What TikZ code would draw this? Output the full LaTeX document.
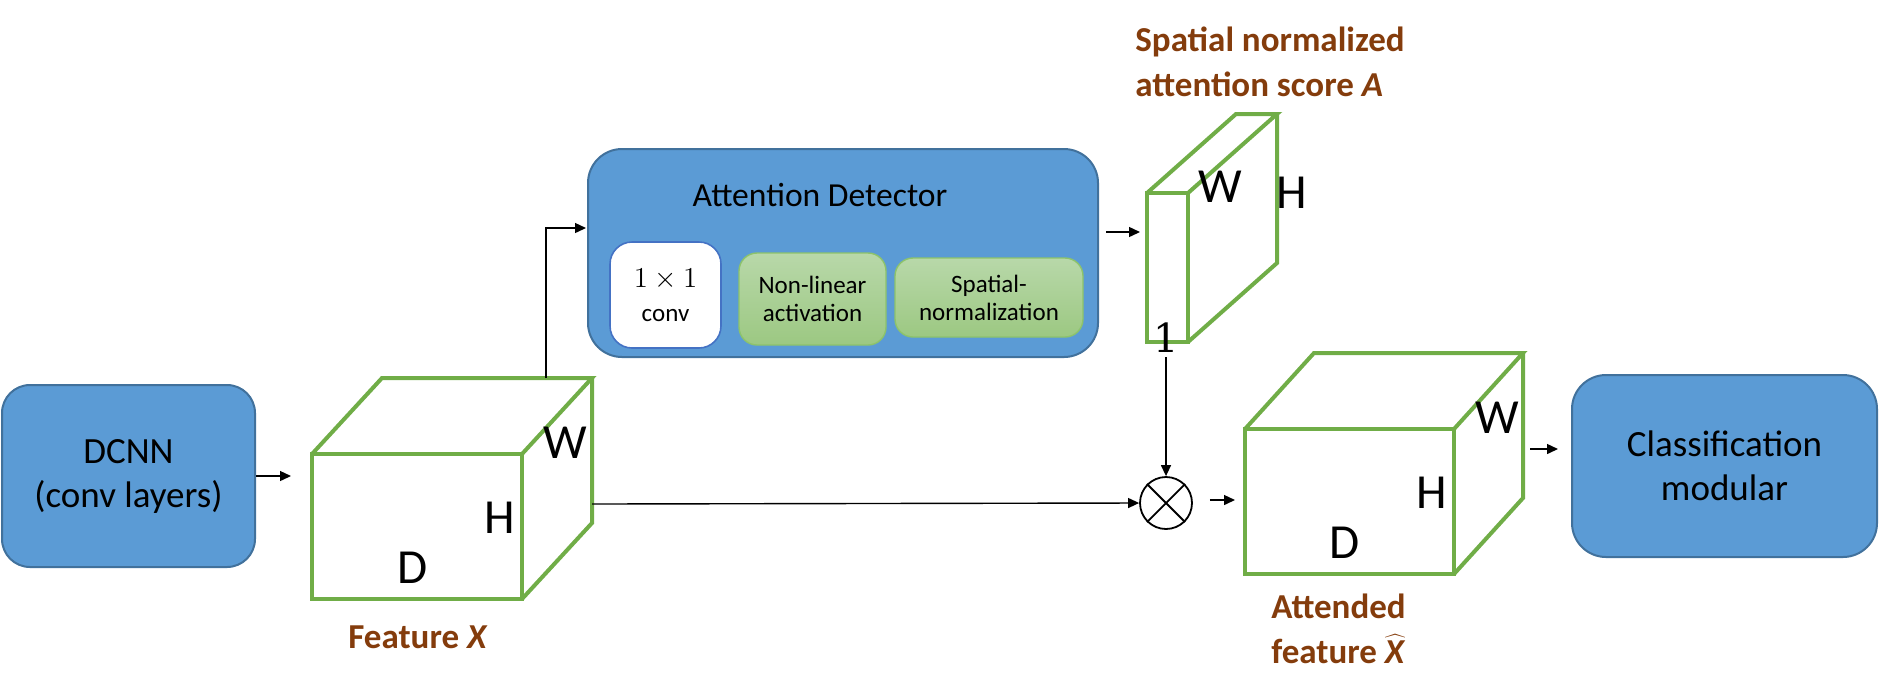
\documentclass[tikz,border=0pt]{standalone}
\usepackage{fontspec}
\setmainfont{Carlito}
\newfontfamily\numserif{DejaVu Serif}
\usetikzlibrary{arrows.meta}
\definecolor{boxblue}{HTML}{5B9BD5}
\definecolor{boxedge}{HTML}{41719C}
\definecolor{convedge}{HTML}{4472C4}
\definecolor{cubegreen}{HTML}{70AD47}
\definecolor{brownlab}{HTML}{843C0C}
\definecolor{gtop}{HTML}{B8D8A9}
\definecolor{gbot}{HTML}{9CC882}
\definecolor{gedge}{HTML}{8DC36B}
\tikzset{
  bluebox/.style={draw=boxedge, fill=boxblue, line width=1pt, align=center, inner sep=0pt},
  greenbox/.style={draw=gedge, top color=gtop, bottom color=gbot, line width=0.7pt,
     rounded corners=9pt, align=center, inner sep=0pt, font=\fontsize{12.5}{14}\selectfont},
  cubeline/.style={draw=cubegreen, line width=2pt},
  dimlab/.style={font=\fontsize{24.5}{29}\selectfont, inner sep=0pt},
  brownlab/.style={text=brownlab, font=\fontsize{17.5}{22.5}\selectfont\bfseries, inner sep=0pt},
  arr/.style={draw=black, line width=0.7pt, -{Triangle[length=5.5pt,width=5pt]}}
}
\begin{document}
\begin{tikzpicture}[x=0.5pt,y=-0.5pt]
\useasboundingbox (0,0) rectangle (1879,698);

% boxes
\node[bluebox, rounded corners=14pt, minimum width=126.5pt, minimum height=91pt,
      font=\fontsize{18.5}{22}\selectfont] (DCNN) at (128.5,476) {DCNN\\(conv layers)};
\node[bluebox, rounded corners=17pt, minimum width=255pt, minimum height=104pt] (AD) at (843,253) {};
\node[font=\fontsize{16.8}{19}\selectfont, inner sep=0pt] (ADt) at (820,195) {Attention Detector};
\node[draw=convedge, fill=white, line width=0.8pt, rounded corners=11pt, minimum width=55.5pt,
      minimum height=53pt, align=center, inner sep=0pt, font=\fontsize{12.5}{17}\selectfont]
      (conv) at (665.5,295) {{\fontsize{15}{17}\selectfont$1\times 1$}\\conv};
\node[greenbox, minimum width=73.5pt, minimum height=46pt] (nl) at (812.5,299) {Non-linear\\activation};
\node[greenbox, minimum width=94pt, minimum height=39.5pt] (sn) at (989,297.5) {Spatial-\\normalization};
\node[bluebox, rounded corners=17pt, minimum width=152.5pt, minimum height=91pt,
      font=\fontsize{18.5}{22}\selectfont] (CLS) at (1724.5,466) {Classification\\modular};

% cube X
\draw[cubeline] (312,454) rectangle (522,599);
\draw[cubeline] (312,454) -- (382,378) -- (592,378) -- (522,454)
                (592,378) -- (592,523) -- (522,599);
\node[dimlab] (XW) at (565,443) {W};
\node[dimlab] (XH) at (500,518) {H};
\node[dimlab] (XD) at (413,568) {D};
\node[brownlab] (Xlab) at (418,637) {Feature \textit{X}};

% cube A
\draw[cubeline] (1147,193) rectangle (1188,342);
\draw[cubeline] (1147,193) -- (1236,114) -- (1277,114) -- (1188,193)
                (1277,114) -- (1277,263) -- (1188,342);
\node[dimlab] (AW) at (1220,187) {W};
\node[dimlab] (AH) at (1292,193) {H};
\node[font=\numserif\fontsize{20}{24}\selectfont, inner sep=0pt, anchor=base] (one) at (1166,352) {1};
\node[brownlab, anchor=west, align=left] (Alab) at (1135,62) {Spatial normalized\\attention score \textit{A}};

% cube Xhat
\draw[cubeline] (1245,429) rectangle (1454,574);
\draw[cubeline] (1245,429) -- (1314,353) -- (1523,353) -- (1454,429)
                (1523,353) -- (1523,498) -- (1454,574);
\node[dimlab] (HW) at (1497,418) {W};
\node[dimlab] (HH) at (1432,493) {H};
\node[dimlab] (HD) at (1345,543) {D};
\node[brownlab, anchor=west, align=left] (Hlab) at (1271,629)
   {Attended\\feature \ensuremath{\widehat{\mbox{\textit{X}}}}};

% multiply
\node[draw, circle, line width=0.9pt, minimum size=26pt, inner sep=0pt] (mult) at (1166,503) {};
\draw[line width=0.9pt] (mult.north west) -- (mult.south east) (mult.north east) -- (mult.south west);

% coordinates
\coordinate (Xin) at (312,476);
\coordinate (Xtop) at (546,378);
\coordinate (ADin) at (588,228);
\coordinate (Ain) at (1147,232);
\coordinate (Xright) at (592,504);
\coordinate (Hin) at (1245,500);
\coordinate (Hright) at (1523,449);

% connectors
\draw[arr, shorten >=10.5pt] (DCNN.east) -- (Xin);
\draw[arr, shorten >=1pt] (Xtop) |- (ADin);
\draw[arr, shorten <=3.5pt, shorten >=3.5pt] (AD.east |- Ain) -- (Ain);
\draw[arr] (Xright) -- (mult.west);
\draw[arr, shorten <=2.5pt] (one.south) -- (mult.north);
\draw[arr, shorten <=8.5pt, shorten >=5pt] (mult.east |- Hin) -- (Hin);
\draw[arr, shorten <=3.5pt, shorten >=6.5pt] (Hright) -- (CLS.west |- Hright);
\end{tikzpicture}
\end{document}
